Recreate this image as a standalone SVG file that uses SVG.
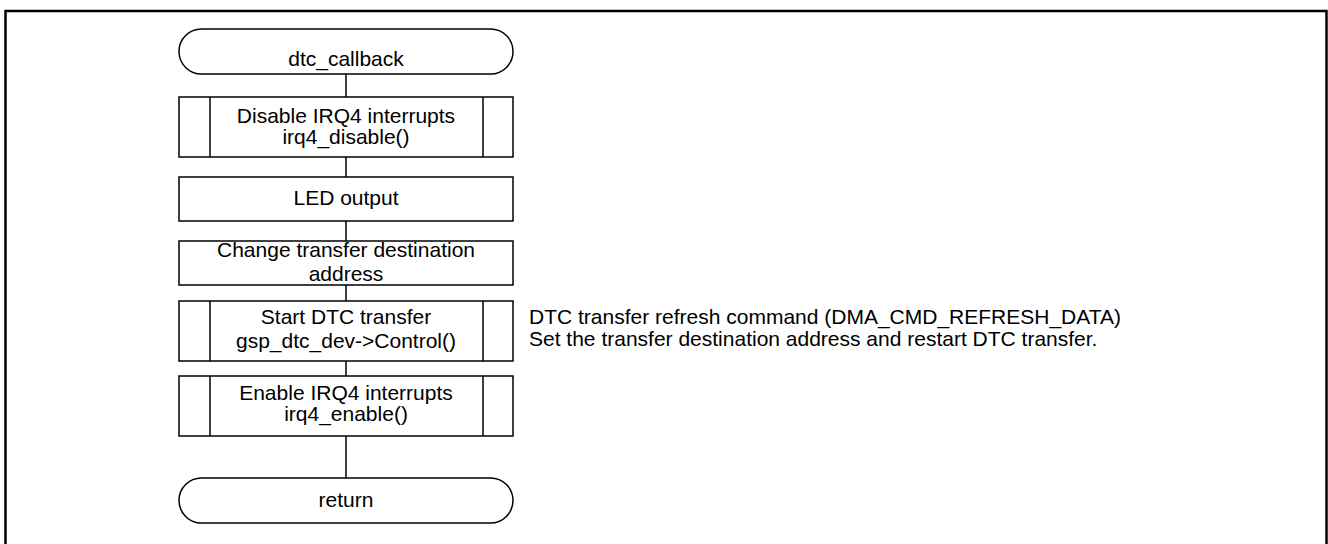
<svg xmlns="http://www.w3.org/2000/svg" width="1328" height="544" viewBox="0 0 1328 544">
<style>
.s{fill:#fff;stroke:#000;stroke-width:1.5}
.l{fill:none;stroke:#000;stroke-width:1.5}
text{font-family:"Liberation Sans",Arial,sans-serif;font-size:21px;fill:#000}
.c{text-anchor:middle}
</style>
<rect x="0" y="0" width="1328" height="544" fill="#fff"/>
<rect x="5.5" y="11" width="1321" height="545" fill="none" stroke="#000" stroke-width="2.5"/>
<g id="connectors">
<line class="l" x1="346" y1="74" x2="346" y2="97"/>
<line class="l" x1="346" y1="157" x2="346" y2="177"/>
<line class="l" x1="346" y1="221" x2="346" y2="241"/>
<line class="l" x1="346" y1="285" x2="346" y2="301"/>
<line class="l" x1="346" y1="361" x2="346" y2="376"/>
<line class="l" x1="346" y1="436" x2="346" y2="478"/>
</g>
<g id="start">
<rect class="s" x="179" y="29" width="334" height="45" rx="22.5"/>
<text class="c" x="346" y="65.5">dtc_callback</text>
</g>
<g id="disable">
<rect class="s" x="179" y="97" width="334" height="60"/>
<line class="l" x1="210" y1="97" x2="210" y2="157"/>
<line class="l" x1="483" y1="97" x2="483" y2="157"/>
<text class="c" x="346" y="122.7">Disable IRQ4 interrupts</text>
<text class="c" x="346" y="144.3">irq4_disable()</text>
</g>
<g id="led">
<rect class="s" x="179" y="177" width="334" height="44"/>
<text class="c" x="346" y="204.7">LED output</text>
</g>
<g id="change">
<rect class="s" x="179" y="241" width="334" height="44"/>
<text class="c" x="346" y="257">Change transfer destination</text>
<text class="c" x="346" y="281.3">address</text>
</g>
<g id="startdtc">
<rect class="s" x="179" y="301" width="334" height="60"/>
<line class="l" x1="210" y1="301" x2="210" y2="361"/>
<line class="l" x1="483" y1="301" x2="483" y2="361"/>
<text class="c" x="346" y="323.7">Start DTC transfer</text>
<text class="c" x="346" y="348">gsp_dtc_dev-&gt;Control()</text>
</g>
<g id="note">
<text x="529" y="323.7">DTC transfer refresh command (DMA_CMD_REFRESH_DATA)</text>
<text x="529" y="346">Set the transfer destination address and restart DTC transfer.</text>
</g>
<g id="enable">
<rect class="s" x="179" y="376" width="334" height="60"/>
<line class="l" x1="210" y1="376" x2="210" y2="436"/>
<line class="l" x1="483" y1="376" x2="483" y2="436"/>
<text class="c" x="346" y="400">Enable IRQ4 interrupts</text>
<text class="c" x="346" y="421.3">irq4_enable()</text>
</g>
<g id="return">
<rect class="s" x="179" y="478" width="334" height="45" rx="22.5"/>
<text class="c" x="346" y="507.3">return</text>
</g>
</svg>
